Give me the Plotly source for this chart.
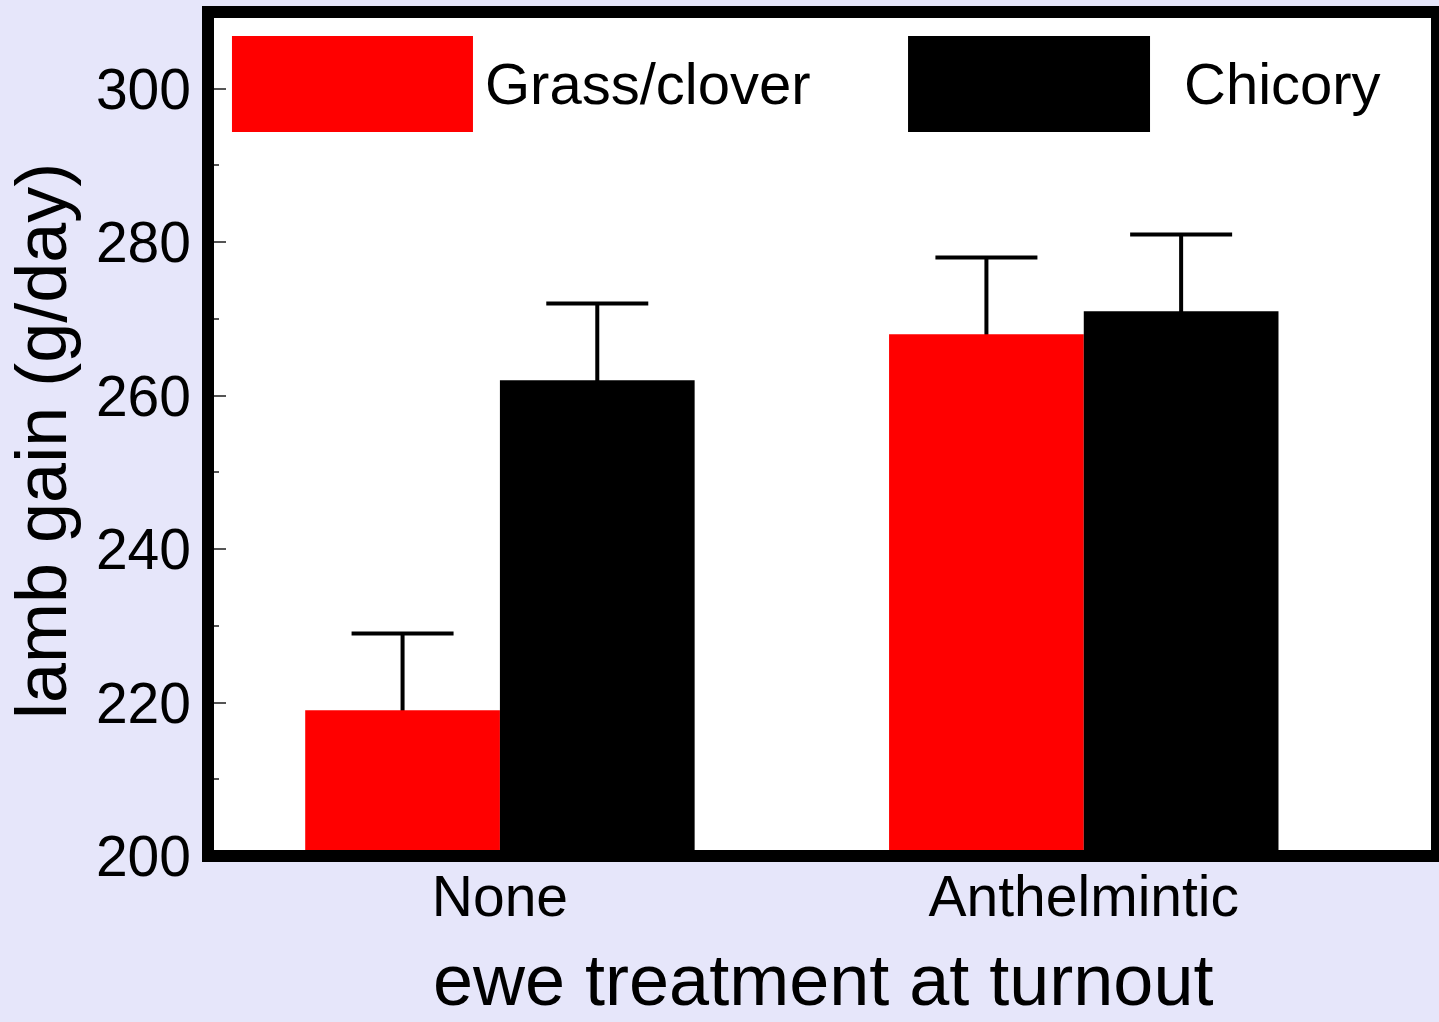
import plotly.graph_objects as go

categories = ["None", "Anthelmintic"]
series_names = ["Grass/clover", "Chicory"]
grass_values = [219, 268]
chicory_values = [262, 271]
grass_err = [10, 10]
chicory_err = [10, 10]
y_ticks = [200, 220, 240, 260, 280, 300]
x_title = "ewe treatment at turnout"
y_title = "lamb gain (g/day)"

colors = ["#FF0000", "#000000"]
FONT = "Liberation Sans, Arial, Helvetica, sans-serif"

fig = go.Figure()
series = [
    (series_names[0], grass_values, grass_err, colors[0], "g"),
    (series_names[1], chicory_values, chicory_err, colors[1], "c"),
]
# error bars first (transparent bars), so the real bars hide the lower half
for name, vals, errs, col, grp in series:
    fig.add_trace(go.Bar(
        x=categories, y=vals, name=name + " error",
        offsetgroup=grp,
        marker=dict(color="rgba(0,0,0,0)", line=dict(width=0)),
        error_y=dict(type="data", array=errs, color="black",
                     thickness=4, width=51),
        showlegend=False, hoverinfo="skip",
    ))
for name, vals, errs, col, grp in series:
    fig.add_trace(go.Bar(
        x=categories, y=vals, name=name, offsetgroup=grp,
        marker=dict(color=col, line=dict(width=0)),
        showlegend=False,
    ))

fig.update_layout(
    width=1439, height=1022,
    paper_bgcolor="#E6E6FA", plot_bgcolor="white",
    margin=dict(l=208, r=2, t=12, b=166, autoexpand=False),
    barmode="group", bargap=0.333, bargroupgap=0,
    font=dict(family=FONT, color="black"),
    xaxis=dict(
        range=[-0.5, 1.605], showgrid=False, zeroline=False,
        ticks="", showline=False, ticklabelstandoff=2, automargin=False,
        tickfont=dict(size=57, family=FONT),
    ),
    yaxis=dict(
        range=[200, 310], showgrid=False, zeroline=False,
        tickvals=y_ticks, ticks="inside", ticklen=18, tickwidth=1.5,
        tickcolor="#555555", showline=False, ticklabelstandoff=16,
        automargin=False,
        minor=dict(dtick=10, ticks="inside", ticklen=11, tickwidth=1.5,
                   tickcolor="#555555", showgrid=False),
        tickfont=dict(size=57, family=FONT),
    ),
)

# axis titles
fig.add_annotation(xref="paper", yref="paper", x=0.5, y=-0.1469,
                   text=x_title, showarrow=False, xanchor="center",
                   yanchor="middle", font=dict(size=72, family=FONT))
fig.add_annotation(xref="paper", yref="paper", x=-0.1359, y=0.4917,
                   text=y_title, showarrow=False, textangle=-90,
                   xanchor="center", yanchor="middle",
                   font=dict(size=72, family=FONT))

# plot frame
fig.add_shape(type="rect", xref="paper", yref="paper", x0=0, x1=1, y0=0, y1=1,
              line=dict(color="black", width=12), layer="above")

# in-plot legend
leg = [
    (0.0195, 0.2156, 0.2238, series_names[0], colors[0]),
    (0.5696, 0.7665, 0.7925, series_names[1], colors[1]),
]
for x0, x1, xt, txt, col in leg:
    fig.add_shape(type="rect", xref="paper", yref="paper",
                  x0=x0, x1=x1, y0=0.8578, y1=0.9716,
                  fillcolor=col, line=dict(width=0), layer="above")
    fig.add_annotation(xref="paper", yref="paper", x=xt, y=0.9147,
                       text=txt, showarrow=False, xanchor="left",
                       yanchor="middle", font=dict(size=58, family=FONT))

fig.write_html("out.html", config={"displayModeBar": False},
               post_script="document.body.style.margin='0';")
